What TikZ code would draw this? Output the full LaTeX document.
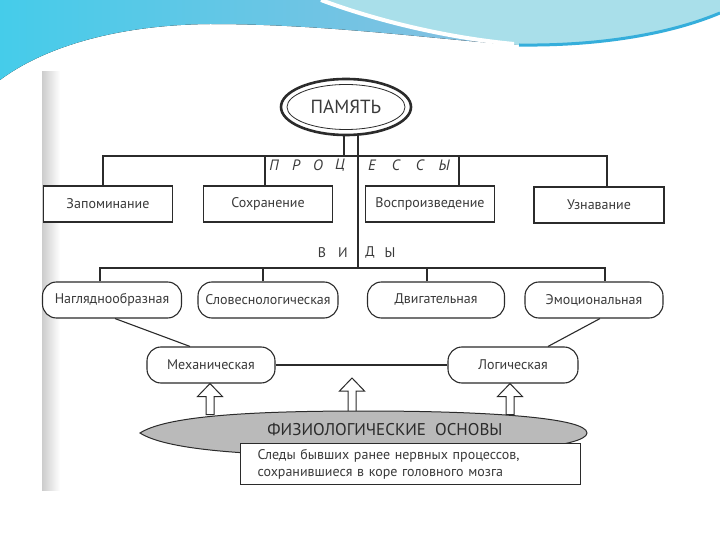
\documentclass[tikz,border=0pt]{standalone}
\usepackage{fontspec}
\setmainfont{PT Sans}
\usetikzlibrary{positioning,shapes.geometric,calc}
\definecolor{mink}{HTML}{2B2B2B}
\definecolor{mtext}{HTML}{3A3A3A}
\definecolor{mshade}{HTML}{BABABA}
\definecolor{wcyan}{HTML}{45CCEA}
\definecolor{wsteel}{HTML}{8ABFE0}
\definecolor{wpale}{HTML}{A9DFEA}
\definecolor{wdeep}{HTML}{35AEDB}
\tikzset{
  mline/.style={draw=mink, line width=1.1pt},
  mbox/.style={rectangle, draw=mink, line width=1.1pt, fill=white,
               minimum width=129, minimum height=36, inner sep=0pt,
               text=mtext, font=\fontsize{14}{16}\selectfont},
  mpill/.style={mbox, rounded corners=14},
  mletter/.style={text=mtext, font=\fontsize{14}{16}\selectfont, inner sep=0pt},
  marrow/.style={draw=mink, line width=1pt, fill=white, line join=miter},
  pics/blockup/.style={code={
    \draw[marrow] (0,0) -- (12.5,13) -- (4,13) -- (4,#1) -- (-4,#1)
                  -- (-4,13) -- (-12.5,13) -- cycle;}},
  pics/blockup/.default=31,
}

\begin{document}
\begin{tikzpicture}[x=1pt,y=-1pt]
  \useasboundingbox (0,0) rectangle (720,540);
  \fill[white] (0,0) rectangle (720,540);

  % --- волна ---
  \fill[left color=wcyan, right color=wsteel]
    (0,0) -- (321,0) .. controls (380,22) and (450,38) .. (519,45)
    .. controls (440,40) and (330,24) .. (210,24)
    .. controls (110,25) and (40,50) .. (0,80) -- cycle;
  \fill[wpale] (321,0) -- (720,0) -- (720,13)
    .. controls (670,34) and (600,46) .. (519,45)
    .. controls (450,38) and (380,22) .. (321,0) -- cycle;
  \draw[white, line width=4pt] (321,0) .. controls (380,22) and (450,38) .. (514,44);
  \draw[wdeep, line width=3pt] (519,45) .. controls (600,46) and (670,34) .. (720,13);
  \shade[left color=black!20, right color=white] (42,72) rectangle (60,490);

  % --- память ---
  \node[ellipse, draw=mink, line width=2.6pt, minimum width=130,
        minimum height=56, fill=white] (pamyat) at (346,107) {};
  \node[ellipse, draw=mink, line width=0.8pt, minimum width=118,
        minimum height=45, text=mtext, font=\fontsize{19}{21}\selectfont]
        (pamyatin) at (pamyat) {ПАМЯТЬ};

  % --- процессы ---
  \node[mbox] (zap) at (108,204) {Запоминание};
  \node[mbox] (sokh) at (268,204) {Сохранение};
  \node[mbox] (vospr) at (430,204) {Воспроизведение};
  \node[mbox, minimum width=130] (uzn) at (599,205) {Узнавание};

  \coordinate (pbus) at (344,156);
  \draw[mline] (pamyat.south -| pbus) -- (pbus);
  \draw[mline] ([xshift=-5]zap.north) |- ([xshift=8]uzn.north |- pbus)
               -- ([xshift=8]uzn.north);
  \draw[mline] ([xshift=-3]sokh.north) -- ([xshift=-3]sokh.north |- pbus);
  \draw[mline] ([xshift=29]vospr.north) -- ([xshift=29]vospr.north |- pbus);

  \foreach \x/\ch [count=\i] in {274/П,296/Р,318/О,340/Ц,372/Е,396/С,420/С,444/Ы}
    \node[mletter, font=\itshape\fontsize{15}{17}\selectfont] (proc\i) at (\x,165) {\ch};

  % --- виды ---
  \coordinate (vbus) at (358,268);
  \draw[mline] (pamyat.south -| vbus) -- (vbus);
  \foreach \x/\ch [count=\i] in {322/В,343/И,370/Д,390/Ы}
    \node[mletter] (vid\i) at (\x,253) {\ch};

  \node[mpill, minimum width=139] (nagl) at (112,300) {Нагляднообразная};
  \node[mpill, minimum width=140] (slov) at (268,300) {Словеснологическая};
  \node[mpill, minimum width=137] (dvig) at (436,300) {Двигательная};
  \node[mpill, minimum width=138] (emoc) at (594,300) {Эмоциональная};

  \draw[mline] ([xshift=-12]nagl.north) |- (vbus) -| ([xshift=11]emoc.north);
  \draw[mline] ([xshift=-5]slov.north) -- ([xshift=-5]slov.north |- vbus);
  \draw[mline] ([xshift=-9]dvig.north) -- ([xshift=-9]dvig.north |- vbus);

  \node[mpill, minimum width=128] (mekh) at (211,365) {Механическая};
  \node[mpill, minimum width=130] (logi) at (513,365) {Логическая};
  \draw[mline] (mekh) -- (logi);
  \draw[mline] ([xshift=3]nagl.south) -- ([xshift=-21]mekh.north);
  \draw[mline] ([xshift=6]emoc.south) -- ([xshift=35]logi.north);

  % --- основы ---
  \coordinate (mid) at (352,378);
  \pic at ([xshift=-1]mekh.south) {blockup};
  \pic at (mid) {blockup=34};
  \pic at ([xshift=-3]logi.south) {blockup};

  \filldraw[draw=mink, fill=mshade, line width=1pt]
    (140,433) .. controls (165,417) and (240,411) .. (364,411)
    .. controls (490,411) and (587,418) .. (587,433)
    .. controls (587,447) and (490,456) .. (364,456)
    .. controls (240,456) and (165,449) .. (140,433) -- cycle;
  \node[text=mink, font=\fontsize{17}{19}\selectfont] (fiz) at (385,430)
    {ФИЗИОЛОГИЧЕСКИЕ\ \ ОСНОВЫ};
  \node[mbox, anchor=north west, minimum width=340, minimum height=41,
        text width=306, inner xsep=17, align=left,
        font=\fontsize{14}{17}\selectfont] (sledy) at (240,443)
    {Следы бывших ранее нервных процессов,\\сохранившиеся в коре головного мозга};
\end{tikzpicture}
\end{document}
